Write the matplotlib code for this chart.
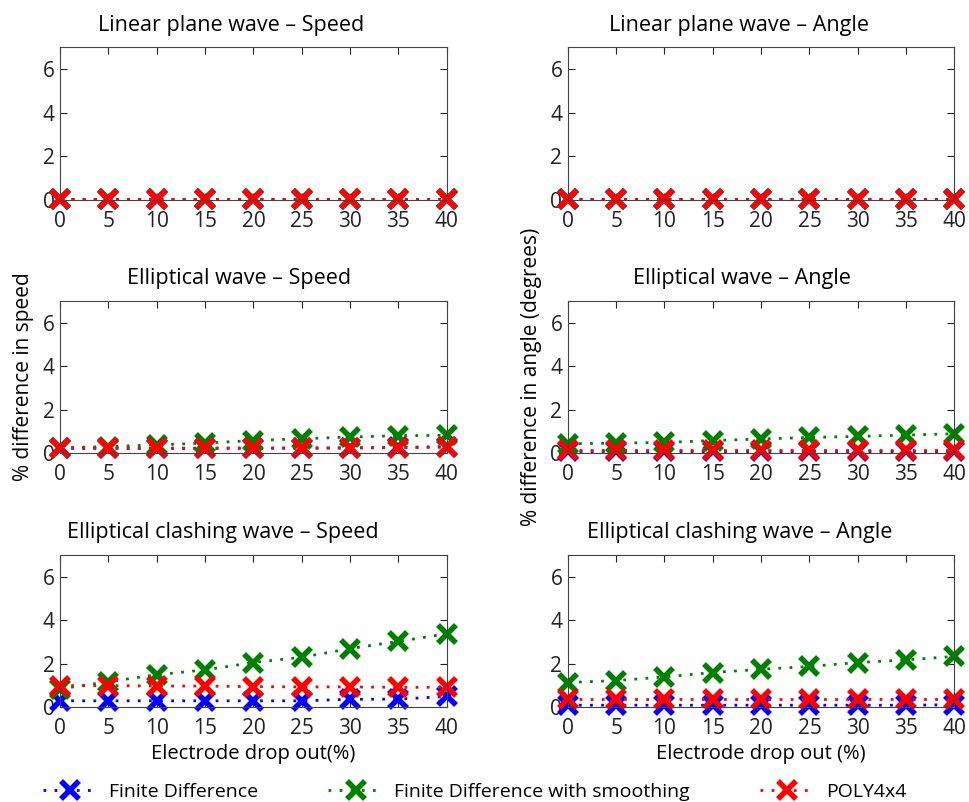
import numpy as np
import matplotlib.pyplot as plt

plt.rcParams['font.family'] = ['Open Sans', 'DejaVu Sans']

dropout = [0, 5, 10, 15, 20, 25, 30, 35, 40]

titles = ['Linear plane wave \u2013 Speed', 'Linear plane wave \u2013 Angle',
          'Elliptical wave \u2013 Speed', 'Elliptical wave \u2013 Angle',
          'Elliptical clashing wave \u2013 Speed', 'Elliptical clashing wave \u2013 Angle']

# Finite Difference
fd_lin_speed = [0.04, 0.04, 0.04, 0.04, 0.04, 0.04, 0.04, 0.04, 0.04]
fd_lin_angle = [0.04, 0.04, 0.04, 0.04, 0.04, 0.04, 0.04, 0.04, 0.04]
fd_ell_speed = [0.22, 0.22, 0.22, 0.22, 0.23, 0.23, 0.24, 0.26, 0.3]
fd_ell_angle = [0.1, 0.1, 0.1, 0.1, 0.1, 0.1, 0.1, 0.1, 0.1]
fd_cl_speed = [0.3, 0.3, 0.3, 0.3, 0.3, 0.3, 0.37, 0.38, 0.5]
fd_cl_angle = [0.1, 0.1, 0.1, 0.1, 0.1, 0.1, 0.1, 0.1, 0.12]

# Finite Difference with smoothing
fds_lin_speed = [0.04, 0.04, 0.04, 0.04, 0.04, 0.04, 0.04, 0.04, 0.04]
fds_lin_angle = [0.04, 0.04, 0.04, 0.04, 0.04, 0.04, 0.04, 0.04, 0.04]
fds_ell_speed = [0.25, 0.3, 0.38, 0.46, 0.58, 0.66, 0.74, 0.8, 0.82]
fds_ell_angle = [0.43, 0.46, 0.49, 0.58, 0.65, 0.72, 0.77, 0.83, 0.89]
fds_cl_speed = [0.85, 1.18, 1.5, 1.72, 2.06, 2.3, 2.7, 3.03, 3.38]
fds_cl_angle = [1.14, 1.23, 1.4, 1.6, 1.75, 1.88, 2.06, 2.18, 2.34]

# POLY4x4
poly_lin_speed = [0.05, 0.05, 0.05, 0.05, 0.05, 0.05, 0.05, 0.05, 0.05]
poly_lin_angle = [0.05, 0.05, 0.05, 0.05, 0.05, 0.05, 0.05, 0.05, 0.05]
poly_ell_speed = [0.23, 0.23, 0.23, 0.23, 0.23, 0.23, 0.24, 0.25, 0.27]
poly_ell_angle = [0.15, 0.15, 0.15, 0.15, 0.15, 0.15, 0.15, 0.15, 0.15]
poly_cl_speed = [1.0, 1.0, 0.98, 0.98, 0.95, 0.94, 0.94, 0.92, 0.92]
poly_cl_angle = [0.37, 0.37, 0.37, 0.37, 0.37, 0.37, 0.37, 0.37, 0.37]

fd = [fd_lin_speed, fd_lin_angle, fd_ell_speed, fd_ell_angle, fd_cl_speed, fd_cl_angle]
fds = [fds_lin_speed, fds_lin_angle, fds_ell_speed, fds_ell_angle, fds_cl_speed, fds_cl_angle]
poly = [poly_lin_speed, poly_lin_angle, poly_ell_speed, poly_ell_angle, poly_cl_speed, poly_cl_angle]

fig = plt.figure(figsize=(9.69, 8.02), dpi=100)

lefts = [0.062, 0.586]
bottoms = [0.751, 0.435, 0.118]
w, h = 0.399, 0.19
# titles sit a little left of the axes centre in the original
title_x = [0.442, 0.444, 0.463, 0.45, 0.421, 0.444]

style = dict(linestyle=(0, (1, 3)), linewidth=2, marker='x', markersize=13,
             markeredgewidth=4, clip_on=False)

axes = []
for i in range(6):
    ax = fig.add_axes([lefts[i % 2], bottoms[i // 2], w, h])
    l1, = ax.plot(dropout, fd[i], color='#0000ff', label='Finite Difference', **style)
    l2, = ax.plot(dropout, fds[i], color='#008000', label='Finite Difference with smoothing', **style)
    l3, = ax.plot(dropout, poly[i], color='#ff0000', label='POLY4x4', **style)
    ax.set_xlim(0, 40)
    ax.set_ylim(0, 7)
    ax.set_xticks(dropout)
    ax.set_yticks([0, 2, 4, 6])
    ax.tick_params(direction='in', top=True, right=True, labelsize=15, length=5,
                   colors='#222222')
    ax.tick_params(axis='x', pad=8)
    ax.tick_params(axis='y', pad=4)
    for s in ax.spines.values():
        s.set_color('#444444')
    ax.set_title(titles[i], fontsize=15.5, pad=12, x=title_x[i])
    axes.append(ax)

axes[2].set_ylabel('% difference in speed', fontsize=15, labelpad=6)
axes[3].set_ylabel('% difference in angle (degrees)', fontsize=15, labelpad=6)
axes[4].set_xlabel('Electrode drop out(%)', fontsize=14.5, labelpad=3)
axes[5].set_xlabel('Electrode drop out (%)', fontsize=14.5, labelpad=3)

fig.legend(handles=[l1, l2, l3], loc='lower center', ncol=3, frameon=False,
           fontsize=14, bbox_to_anchor=(0.49, -0.02), columnspacing=3.6,
           handlelength=2.8, handletextpad=0.6)

fig.savefig('out.png', dpi=100)
